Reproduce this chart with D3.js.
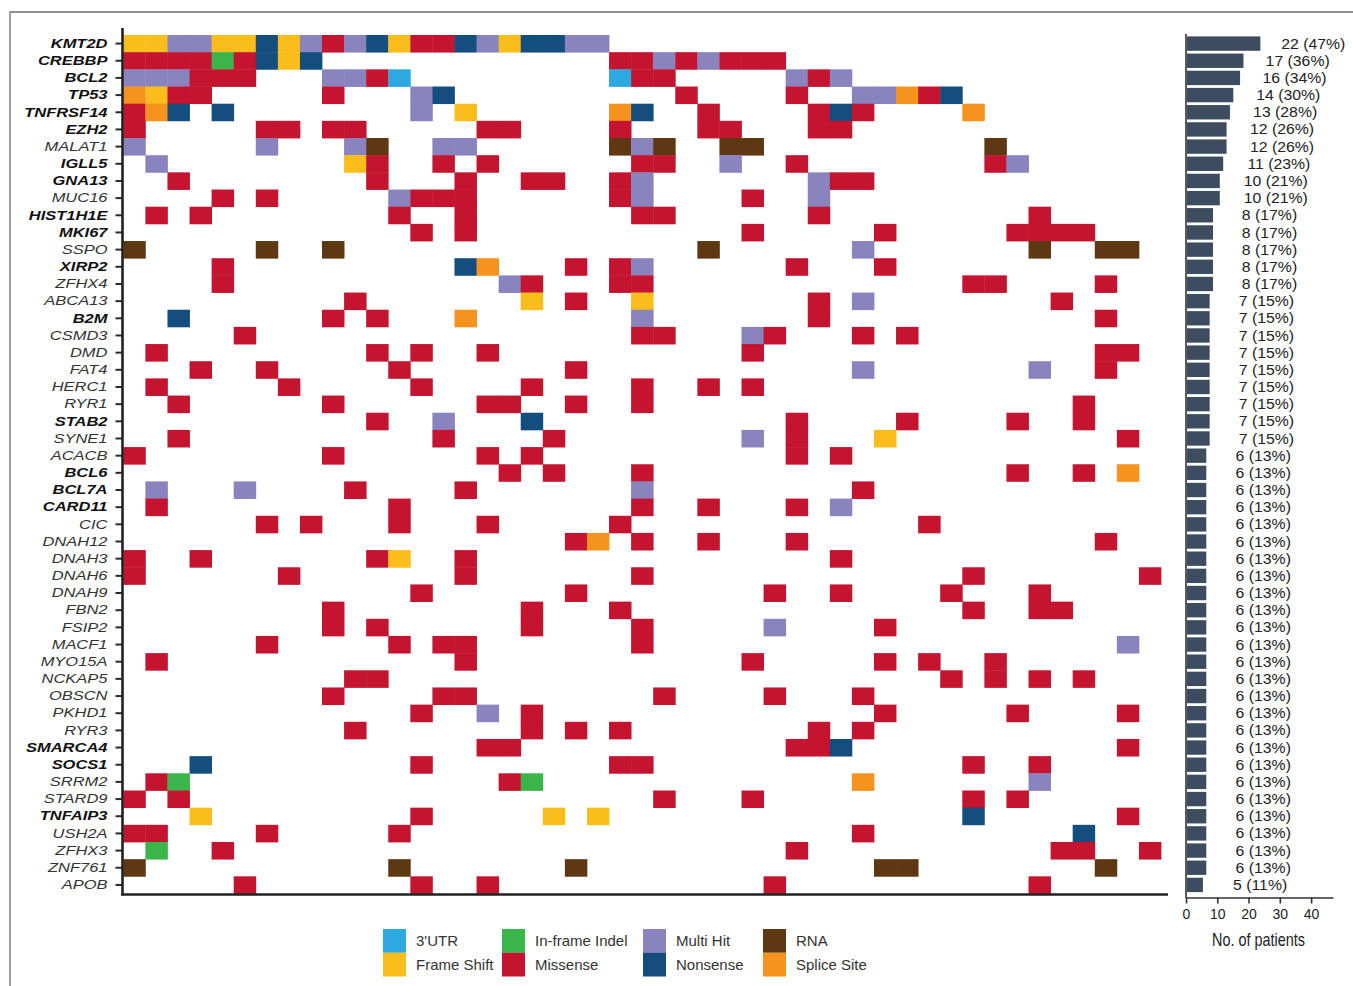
<!DOCTYPE html>
<html>
<head>
<meta charset="utf-8">
<script src="https://cdn.jsdelivr.net/npm/d3@7"></script>
<style>
  body { margin: 0; background: #fff; }
  svg { display: block; font-family: "Liberation Sans", Arial, sans-serif; }
</style>
</head>
<body>
<div id="chart"></div>
<script>
// ---- data ----
const genes = ["KMT2D", "CREBBP", "BCL2", "TP53", "TNFRSF14", "EZH2", "MALAT1", "IGLL5", "GNA13", "MUC16",
  "HIST1H1E", "MKI67", "SSPO", "XIRP2", "ZFHX4", "ABCA13", "B2M", "CSMD3", "DMD", "FAT4",
  "HERC1", "RYR1", "STAB2", "SYNE1", "ACACB", "BCL6", "BCL7A", "CARD11", "CIC", "DNAH12",
  "DNAH3", "DNAH6", "DNAH9", "FBN2", "FSIP2", "MACF1", "MYO15A", "NCKAP5", "OBSCN", "PKHD1",
  "RYR3", "SMARCA4", "SOCS1", "SRRM2", "STARD9", "TNFAIP3", "USH2A", "ZFHX3", "ZNF761", "APOB"];

const boldGenes = ["KMT2D", "CREBBP", "BCL2", "TP53", "TNFRSF14", "EZH2", "IGLL5", "GNA13", "HIST1H1E",
  "MKI67", "XIRP2", "B2M", "STAB2", "BCL6", "BCL7A", "CARD11", "SMARCA4", "SOCS1", "TNFAIP3"];

const patientCounts = [22, 17, 16, 14, 13, 12, 12, 11, 10, 10, 8, 8, 8, 8, 8, 7, 7, 7, 7, 7,
  7, 7, 7, 7, 6, 6, 6, 6, 6, 6, 6, 6, 6, 6, 6, 6, 6, 6, 6, 6, 6, 6, 6, 6, 6, 6, 6, 6, 6, 5];

const percentLabels = ["47%", "36%", "34%", "30%", "28%", "26%", "26%", "23%", "21%", "21%",
  "17%", "17%", "17%", "17%", "17%", "15%", "15%", "15%", "15%", "15%",
  "15%", "15%", "15%", "15%", "13%", "13%", "13%", "13%", "13%", "13%",
  "13%", "13%", "13%", "13%", "13%", "13%", "13%", "13%", "13%", "13%",
  "13%", "13%", "13%", "13%", "13%", "13%", "13%", "13%", "13%", "11%"];

// patient column + mutation code, one string per gene
const mutationRows = [
  "0F 1F 2H 3H 4F 5F 6N 7F 8H 9M 10H 11N 12F 13M 14M 15N 16H 17F 18N 19N 20H 21H",
  "0M 1M 2M 3M 4I 5M 6N 7F 8N 22M 23M 24H 25M 26H 27M 28M 29M",
  "0H 1H 2H 3M 4M 5M 9H 10H 11M 12U 22U 23M 24M 30H 31M 32H",
  "0S 1F 2M 3M 9M 13H 14N 25M 30M 33H 34H 35S 36M 37N",
  "0M 1S 2N 4N 13H 15F 22S 23N 26M 31M 32N 33M 38S",
  "0M 6M 7M 9M 10M 16M 17M 22M 26M 27M 31M 32M",
  "0H 6H 10H 11R 14H 15H 22R 23H 24R 27R 28R 39R",
  "1H 10F 11M 14M 16M 23M 24M 27H 30M 39M 40H",
  "2M 11M 15M 18M 19M 22M 23H 31H 32M 33M",
  "4M 6M 12H 13M 14M 15M 22M 23H 28M 31H",
  "1M 3M 12M 15M 23M 24M 31M 41M",
  "13M 15M 28M 34M 40M 41M 42M 43M",
  "0R 6R 9R 26R 33H 41R 44R 45R",
  "4M 15N 16S 20M 22M 23H 30M 34M",
  "4M 17H 18M 22M 23M 38M 39M 44M",
  "10M 18F 20M 23F 31M 33H 42M",
  "2N 9M 11M 15S 23H 31M 44M",
  "5M 23M 24M 28H 29M 33M 35M",
  "1M 11M 13M 16M 28M 44M 45M",
  "3M 6M 12M 20M 33H 41H 44M",
  "1M 7M 13M 18M 23M 26M 28M",
  "2M 9M 16M 17M 20M 23M 43M",
  "11M 14H 18N 30M 35M 40M 43M",
  "2M 14M 19M 28H 30M 34F 45M",
  "0M 9M 16M 18M 30M 32M",
  "17M 19M 23M 40M 43M 45S",
  "1H 5H 10M 15M 23H 33M",
  "1M 12M 23M 26M 30M 32H",
  "6M 8M 12M 16M 22M 36M",
  "20M 21S 23M 26M 30M 44M",
  "0M 3M 11M 12F 15M 32M",
  "0M 7M 15M 23M 38M 46M",
  "13M 20M 29M 32M 37M 41M",
  "9M 18M 22M 38M 41M 42M",
  "9M 11M 18M 23M 29H 34M",
  "6M 12M 14M 15M 23M 45H",
  "1M 15M 28M 34M 36M 39M",
  "10M 11M 37M 39M 41M 43M",
  "9M 14M 15M 24M 29M 33M",
  "13M 16H 18M 34M 40M 45M",
  "10M 18M 20M 22M 31M 33M",
  "16M 17M 30M 31M 32N 45M",
  "3N 13M 22M 23M 38M 41M",
  "1M 2I 17M 18I 33S 41H",
  "0M 2M 24M 28M 38M 40M",
  "3F 13M 19F 21F 38N 45M",
  "0M 1M 6M 12M 33M 43N",
  "1I 4M 30M 42M 43M 46M",
  "0R 12R 20R 34R 35R 44R",
  "5M 13M 16M 29M 41M"
];

const mutationTypes = ["3'UTR", "Frame Shift", "In-frame Indel", "Missense", "Multi Hit", "Nonsense", "RNA", "Splice Site"];
const mutationCodes = ["U", "F", "I", "M", "H", "N", "R", "S"];
const typeColors = ["#2CA9E1", "#FBBD1B", "#3AB54A", "#C41430", "#8983BE", "#134E7F", "#5E3812", "#F6921E"];

const nPatients = 47;
const countTicks = [0, 10, 20, 30, 40];

// ---- layout ----
const W = 1353, H = 986;
const GRID = { LEFT: 123.3, RIGHT: 1161, TOP: 35, BOTTOM: 893.5 };
const BAR = { LEFT: 1186, RIGHT: 1333 };
const legendColX = [383, 502, 643, 763];

const svg = d3.select("#chart").append("svg")
  .attr("width", W).attr("height", H)
  .style("background", "white");

// outer frame (top and left edges visible)
svg.append("path")
  .attr("d", `M10,${H} V12 H${W}`)
  .attr("fill", "none").attr("stroke", "#6d6d6d").attr("stroke-width", 1.3);

const x = d3.scaleBand().domain(d3.range(nPatients)).range([GRID.LEFT, GRID.RIGHT]);
const y = d3.scaleBand().domain(genes).range([GRID.TOP, GRID.BOTTOM]);
const color = d3.scaleOrdinal().domain(mutationCodes).range(typeColors);

const cells = [];
mutationRows.forEach((row, gi) => {
  row.split(" ").forEach((tok) => {
    cells.push({ gene: genes[gi], patient: parseInt(tok), code: tok.slice(-1) });
  });
});

svg.append("g")
  .selectAll("rect")
  .data(cells)
  .join("rect")
  .attr("x", (d) => x(d.patient))
  .attr("y", (d) => y(d.gene))
  .attr("width", x.bandwidth() + 0.4)
  .attr("height", y.bandwidth() + 0.4)
  .attr("fill", (d) => color(d.code));

// gene axis
const yAxis = svg.append("g")
  .attr("transform", "translate(122.5,0)")
  .call(d3.axisLeft(y).tickSize(7).tickSizeOuter(0));
yAxis.select(".domain").remove();
yAxis.selectAll(".tick line").attr("stroke", "#2a2a2a").attr("stroke-width", 2);
yAxis.selectAll(".tick text")
  .attr("x", 0)
  .attr("transform", "translate(-15,0) scale(1.24,1)")
  .style("font-size", "13.3px")
  .style("font-style", "italic")
  .style("font-weight", (d) => (boldGenes.includes(d) ? "bold" : "normal"))
  .style("fill", (d) => (boldGenes.includes(d) ? "#111" : "#333"));

svg.append("line")
  .attr("x1", 122.5).attr("x2", 122.5).attr("y1", 28).attr("y2", 895.5)
  .attr("stroke", "#222").attr("stroke-width", 2.6);
svg.append("line")
  .attr("x1", 121.2).attr("x2", 1168).attr("y1", 894.5).attr("y2", 894.5)
  .attr("stroke", "#222").attr("stroke-width", 2.6);

// side bar chart: axis scale, and bar-length scale as drawn in the original
const xb = d3.scaleLinear().domain([0, nPatients]).range([BAR.LEFT, BAR.RIGHT]);
const xbBar = d3.scaleLinear().domain([0, nPatients]).range([BAR.LEFT, BAR.LEFT + 3.38 * nPatients]);

svg.append("g")
  .selectAll("rect")
  .data(genes)
  .join("rect")
  .attr("x", xbBar(0) + 1)
  .attr("y", (d) => y(d) + 1.4)
  .attr("width", (d, i) => xbBar(patientCounts[i]) - xbBar(0) - 1)
  .attr("height", y.bandwidth() - 2.8)
  .attr("fill", "#3D4C5E");

svg.append("g")
  .selectAll("text")
  .data(genes)
  .join("text")
  .attr("transform", (d, i) => `translate(${xb(patientCounts[i]) + 58.5},${y(d) + y.bandwidth() / 2}) scale(1.13,1)`)
  .attr("dy", "0.36em")
  .attr("text-anchor", "middle")
  .attr("fill", "#222")
  .style("font-size", "14px")
  .text((d, i) => `${patientCounts[i]} (${percentLabels[i]})`);

svg.append("line")
  .attr("x1", BAR.LEFT).attr("x2", BAR.LEFT).attr("y1", 34).attr("y2", 898)
  .attr("stroke", "#333").attr("stroke-width", 1.6);

const xbAxis = svg.append("g")
  .attr("transform", "translate(0,897.5)")
  .call(d3.axisBottom(xb).tickValues(countTicks).tickSize(6).tickSizeOuter(0).tickPadding(6));
xbAxis.select(".domain").attr("stroke", "#333").attr("stroke-width", 1.6);
xbAxis.selectAll(".tick line").attr("stroke", "#333").attr("stroke-width", 1.6);
xbAxis.selectAll(".tick text")
  .attr("fill", "#222")
  .style("font-size", "14px")
  .style("font-family", "'Liberation Sans', Arial, sans-serif");

svg.append("text")
  .attr("transform", `translate(${(BAR.LEFT + BAR.RIGHT) / 2 - 1},946) scale(0.8,1)`)
  .attr("text-anchor", "middle")
  .attr("fill", "#222")
  .style("font-size", "18px")
  .text("No. of patients");

// legend
const legend = svg.append("g").selectAll("g")
  .data(mutationTypes)
  .join("g")
  .attr("transform", (d, i) => `translate(${legendColX[Math.floor(i / 2)]},${929 + (i % 2) * 23.7})`);
legend.append("rect")
  .attr("width", 23).attr("height", 23.8)
  .attr("fill", (d, i) => typeColors[i]);
legend.append("text")
  .attr("x", 33).attr("y", 12)
  .attr("dy", "0.36em")
  .attr("fill", "#333")
  .style("font-size", "15px")
  .text((d) => d);
</script>
</body>
</html>
